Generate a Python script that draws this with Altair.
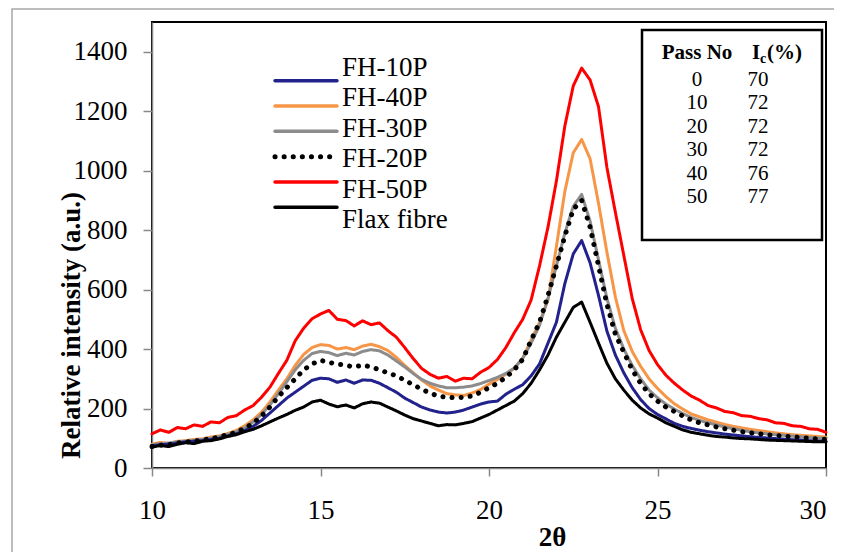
import altair as alt
import pandas as pd

# 2-theta sampling grid (degrees), 0.25 deg steps from 10 to 30
two_theta = [10 + 0.25 * i for i in range(81)]

fh50 = [115, 128, 120, 136, 132, 145, 140, 155, 152, 170, 176, 195, 210, 238, 272, 318,
        362, 428, 470, 502, 518, 530, 500, 496, 478, 495, 482, 488, 462, 440, 405, 368,
        335, 315, 302, 308, 292, 302, 300, 322, 338, 365, 405, 455, 500, 565, 680, 810,
        965, 1150, 1285, 1345, 1305, 1215, 1010, 860, 715, 570, 465, 395, 348, 312, 285, 262,
        242, 228, 210, 202, 190, 186, 176, 174, 166, 162, 152, 150, 142, 140, 132, 130, 120]

fh40 = [80, 86, 82, 90, 92, 96, 98, 104, 108, 116, 126, 142, 162, 188, 222, 262,
        300, 345, 382, 405, 415, 412, 400, 405, 398, 410, 416, 408, 395, 372, 345, 320,
        296, 276, 262, 250, 246, 244, 252, 264, 282, 298, 315, 335, 370, 430, 490, 565,
        745, 930, 1060, 1105, 1040, 890, 725, 575, 462, 392, 342, 300, 268, 240, 216, 198,
        182, 172, 162, 154, 146, 140, 135, 130, 126, 122, 118, 115, 112, 110, 108, 106, 104]

fh30 = [78, 82, 84, 88, 90, 93, 96, 100, 106, 113, 122, 135, 155, 180, 212, 250,
        290, 330, 362, 385, 392, 388, 378, 386, 380, 392, 398, 394, 380, 360, 340, 318,
        298, 285, 276, 270, 270, 272, 276, 284, 294, 305, 318, 336, 368, 420, 480, 570,
        680, 790, 880, 920, 830, 700, 570, 470, 400, 345, 300, 262, 236, 215, 198, 183,
        170, 160, 152, 145, 138, 132, 127, 122, 118, 115, 112, 110, 107, 105, 103, 101, 100]

fh20 = [72, 76, 78, 84, 88, 90, 95, 98, 105, 112, 120, 134, 150, 175, 205, 240,
        270, 300, 330, 350, 362, 355, 350, 345, 340, 346, 340, 330, 320, 310, 295, 280,
        265, 252, 242, 238, 236, 238, 242, 255, 270, 285, 305, 330, 365, 430, 490, 580,
        680, 780, 870, 900, 810, 680, 550, 450, 390, 330, 285, 250, 225, 205, 190, 175,
        162, 152, 145, 138, 132, 127, 122, 118, 115, 112, 110, 107, 105, 103, 100, 98, 96]

fh10 = [75, 78, 80, 84, 88, 90, 92, 96, 100, 108, 115, 126, 140, 160, 185, 210,
        235, 255, 275, 295, 302, 300, 288, 296, 285, 296, 295, 285, 270, 255, 235, 220,
        205, 195, 188, 185, 188, 195, 205, 215, 222, 225, 248, 265, 280, 310, 350, 420,
        490, 620, 720, 765, 690, 580, 460, 380, 320, 270, 230, 200, 180, 165, 150, 140,
        133, 127, 122, 118, 114, 111, 108, 105, 103, 101, 99, 97, 95, 94, 92, 91, 90]

flax = [70, 76, 72, 80, 85, 82, 90, 92, 98, 106, 112, 122, 130, 142, 155, 168,
        180, 194, 205, 222, 228, 215, 206, 212, 202, 216, 222, 218, 205, 192, 178, 166,
        158, 150, 142, 146, 145, 150, 156, 168, 180, 195, 210, 225, 250, 285, 330, 380,
        440, 490, 540, 558, 490, 420, 352, 300, 262, 228, 202, 182, 168, 152, 140, 128,
        120, 115, 110, 106, 104, 101, 99, 98, 96, 94, 93, 92, 91, 90, 89, 88, 88]

legend_order = ["FH-10P", "FH-40P", "FH-30P", "FH-20P", "FH-50P", "Flax fibre"]
series_colors = ["#22228c", "#f79646", "#8c8c8c", "#000000", "#ff0000", "#000000"]
series_dashes = [[1, 0], [1, 0], [1, 0], [0.1, 9], [1, 0], [1, 0]]

# drawing order (bottom to top)
draw_order = [("FH-50P", fh50), ("FH-40P", fh40), ("FH-30P", fh30),
              ("FH-10P", fh10), ("Flax fibre", flax), ("FH-20P", fh20)]

pass_no = ["0", "10", "20", "30", "40", "50"]
ic_pct = ["70", "72", "72", "72", "76", "77"]

FONT = "Liberation Serif"

rows = []
for name, vals in draw_order:
    for t, v in zip(two_theta, vals):
        rows.append({"theta": t, "intensity": v, "series": name})
df = pd.DataFrame(rows)

color_enc = alt.Color("series:N", scale=alt.Scale(domain=legend_order, range=series_colors),
                      legend=None)
dash_enc = alt.StrokeDash("series:N", scale=alt.Scale(domain=legend_order, range=series_dashes),
                          legend=None)
is_dotted = alt.datum.series == "FH-20P"

lines = alt.Chart(df).mark_line(strokeCap="round", strokeJoin="round").encode(
    x=alt.X("theta:Q", scale=alt.Scale(domain=[10, 30], nice=False),
            axis=alt.Axis(values=[10, 15, 20, 25, 30], title="2θ", tickSize=8, format="d",
                          labelFlush=False, labelPadding=21, titleX=400, titleY=77,
                          labelAlign={"condition": {"test": "datum.value == 30", "value": "right"},
                                      "value": "center"},
                          titleBaseline="alphabetic")),
    y=alt.Y("intensity:Q", scale=alt.Scale(domain=[0, 1500], nice=False),
            axis=alt.Axis(values=list(range(0, 1401, 200)), title="Relative intensity (a.u.)",
                          format="d", tickSize=9, labelPadding=16, titleX=-73, titleY=303,
                          labelFlush=False, titleBaseline="alphabetic")),
    color=color_enc,
    strokeDash=dash_enc,
    strokeWidth=alt.condition(is_dotted, alt.value(5), alt.value(3)),
)

# legend drawn as marks positioned by a point scale over the series names
leg_df = pd.DataFrame({"series": legend_order})
leg_y = alt.Y("series:N", scale=alt.Scale(domain=legend_order, range=[46, 198], padding=0),
              axis=None)
leg_sym = alt.Chart(leg_df).mark_rule(strokeCap="round").encode(
    x=alt.value(123), x2=alt.value(185), y=leg_y,
    color=color_enc, strokeDash=dash_enc,
    strokeWidth=alt.condition(is_dotted, alt.value(5), alt.value(3.5)),
)
leg_txt = alt.Chart(leg_df).mark_text(align="left", baseline="middle", font=FONT,
                                      fontSize=27, color="black").encode(
    x=alt.value(190), y=leg_y, text="series:N")

one = pd.DataFrame({"k": [0]})

box = alt.Chart(one).mark_rect(fill="white", stroke="black", strokeWidth=2.5).encode(
    x=alt.value(490), x2=alt.value(670), y=alt.value(8), y2=alt.value(218))

frame = alt.Chart(one).mark_rect(filled=False, stroke="#a8a8a8", strokeWidth=1.5).encode(
    x=alt.value(-140), x2=alt.value(720), y=alt.value(-13), y2=alt.value(600))

layers = [frame, lines, box]

hdr = dict(font=FONT, fontSize=21, fontWeight="bold", color="black", baseline="middle")
layers.append(alt.Chart(one).mark_text(text="Pass No", align="center", **hdr).encode(
    x=alt.value(545), y=alt.value(31)))
layers.append(alt.Chart(one).mark_text(text="I", align="left", **hdr).encode(
    x=alt.value(600), y=alt.value(31)))
layers.append(alt.Chart(one).mark_text(text="c", align="left", font=FONT, fontSize=14,
                                       fontWeight="bold", color="black", baseline="middle").encode(
    x=alt.value(608), y=alt.value(37)))
layers.append(alt.Chart(one).mark_text(text="(%)", align="left", **hdr).encode(
    x=alt.value(615), y=alt.value(31)))

for i, (p, c) in enumerate(zip(pass_no, ic_pct)):
    yy = 58 + i * 23.4
    layers.append(alt.Chart(one).mark_text(text=p, align="center", font=FONT, fontSize=21,
                                           color="black", baseline="middle").encode(
        x=alt.value(545), y=alt.value(yy)))
    layers.append(alt.Chart(one).mark_text(text=c, align="center", font=FONT, fontSize=21,
                                           color="black", baseline="middle").encode(
        x=alt.value(606), y=alt.value(yy)))

layers += [leg_sym, leg_txt]

chart = alt.layer(*layers).resolve_scale(y="independent").properties(
    width=674, height=446,
    autosize=alt.AutoSizeParams(type="none"),
    padding={"left": 144, "top": 14, "right": 8, "bottom": 84},
    background="white",
).configure_view(stroke="black", strokeWidth=2).configure_axis(
    grid=False, domainColor="#888888", domainWidth=1.5, tickColor="#888888", tickWidth=1.5,
    labelFont=FONT, labelFontSize=27, labelColor="black",
    titleFont=FONT, titleFontSize=27, titleFontWeight="bold", titleColor="black",
)

chart.save("out.html", embed_options={"renderer": "svg", "actions": False})
